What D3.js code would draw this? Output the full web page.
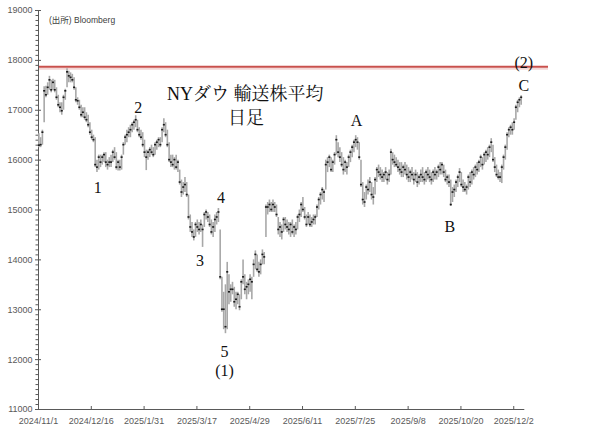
<!DOCTYPE html>
<html><head><meta charset="utf-8">
<script src="https://cdn.jsdelivr.net/npm/d3@7"></script>
<style>
html,body{margin:0;padding:0;background:#fff;}
svg{display:block;}
</style></head>
<body>
<svg id="c" width="616" height="433"></svg>
<script>
// Daily bars: index 0 = 2024/11/1 (trading days)
const tickLabels = ["2024/11/1","2024/12/16","2025/1/31","2025/3/17","2025/4/29","2025/6/11","2025/7/25","2025/9/8","2025/10/20","2025/12/2"];
const tickEvery = 30;
const yTicks = [11000,12000,13000,14000,15000,16000,17000,18000,19000];
const resistance = 17860;

const highs = [
16530,16450,16600,17470,17480,17550,17680,17600,17620,17600,17450,17300,17150,17150,17300,17420,17830,17780,17750,17720,
17650,17450,17250,17200,17100,17050,17050,16950,16900,16750,16600,16500,16450,16000,16100,16100,16100,16150,16150,16000,16050,
16100,16200,16250,16150,16000,16000,16100,16350,16500,16600,16650,
16700,16750,16800,16890,16800,16650,16600,16550,16400,
16200,16200,16250,16300,16250,16350,16400,16450,16450,16650,16830,16750,16600,16350,16100,16100,16050,16100,16000,
15800,15600,15550,15650,15550,15300,14900,14750,14600,14750,14800,14750,14800,14700,14950,15000,14950,14900,14800,14750,14900,14950,15030,
14600,13650,13350,13500,13950,13700,13500,13550,13450,13350,13350,13300,13600,14000,13700,13550,13600,13700,13650,
14000,14180,14100,13950,14000,14200,14150,15100,15150,15200,15150,15200,15150,15100,14850,14750,14700,14850,14850,14800,14750,
14750,14800,14700,14750,14900,15000,15150,15250,15050,14900,14950,14900,14850,14900,
14900,15100,15250,15350,15450,15400,
16000,16050,16100,16050,16000,16150,16490,16350,16250,16150,16050,16000,15950,16100,16200,16300,16400,16490,16450,16350,16000,15550,15350,
15500,15600,15650,15550,15450,15650,15850,15900,15850,15800,15750,15850,15750,15800,16220,16150,16100,16050,16000,15950,
15950,15900,15950,15900,15850,15800,15850,15750,15800,15750,15700,15800,15850,15750,15800,15850,15800,15750,15800,15850,15800,15900,15950,15950,15900,15800,15700,15700,15600,15450,15500,
15600,15700,15830,15750,15600,15550,15500,15700,15750,15800,15850,15900,15950,16000,16100,16050,16150,16200,16250,16300,16430,16300,16050,15900,15800,15750,15900,16100,16300,16550,16650,16700,16750,16830,17100,17200,17250,17290
];
const lows = [
16250,16250,16300,16750,17250,17300,17400,17350,17400,17350,17200,17050,16950,16900,17000,17200,17450,17550,17550,17550,
17400,17150,17100,17000,16850,16850,16800,16750,16650,16500,16400,16350,15850,15750,15800,15850,15900,15950,15850,15800,15850,
15850,15950,16000,15800,15780,15780,15800,16100,16300,16350,16450,
16450,16550,16600,16650,16550,16450,16400,16250,16050,
15790,16000,16050,16100,16050,16100,16200,16250,16250,16350,16550,16450,16250,15950,15850,15850,15800,15800,15750,
15500,15250,15300,15350,15250,14800,14550,14450,14380,14450,14550,14500,14550,14250,14650,14800,14750,14650,14500,14450,14550,14700,14750,
13600,12950,12600,12520,12600,13100,13150,13300,13050,13000,13100,12980,13200,13500,13300,13200,13300,13350,13200,
13650,13800,13750,13650,13700,13900,13900,14450,14900,14950,14950,14950,14950,14850,14500,14450,14400,14550,14600,14550,14500,
14450,14500,14450,14500,14600,14750,14850,14950,14800,14650,14700,14650,14650,14700,
14700,14850,15000,15100,15200,15150,
15400,15750,15850,15750,15750,15900,16100,16050,15950,15850,15700,15750,15700,15850,15950,16050,16150,16250,16200,16000,15450,15100,15050,
15200,15300,15350,15200,15100,15300,15550,15650,15600,15550,15550,15600,15500,15550,15700,15900,15850,15850,15750,15700,
15650,15650,15700,15600,15550,15550,15600,15500,15550,15450,15500,15550,15550,15500,15550,15600,15550,15500,15550,15600,15600,15650,15700,15700,15650,15550,15500,15450,15070,15150,15250,
15350,15450,15550,15450,15350,15350,15300,15400,15450,15500,15600,15650,15700,15750,15850,15800,15900,15950,16000,16050,16150,15950,15750,15650,15600,15550,15530,15800,16000,16200,16450,16500,16500,16600,16800,16950,17050,17100
];
const closes = [
16290,16300,16550,17380,17300,17450,17600,17400,17550,17400,17250,17100,17050,16980,17250,17380,17760,17680,17650,17600,
17450,17200,17180,17050,16900,16950,16850,16800,16700,16550,16450,16400,15900,15850,16050,15950,16050,16100,15950,15900,15950,
15950,16150,16050,15850,15950,15850,16050,16300,16450,16500,16550,
16600,16700,16750,16800,16600,16500,16450,16300,16150,
16050,16150,16200,16150,16100,16300,16350,16400,16300,16600,16700,16500,16300,16000,15950,15900,16000,15850,15950,
15550,15350,15450,15500,15300,14850,14650,14550,14450,14700,14650,14600,14700,14600,14900,14950,14850,14700,14550,14650,14800,14850,14950,
13650,13000,13000,12650,13750,13350,13400,13400,13150,13200,13300,13050,13550,13650,13400,13450,13500,13600,13550,
13900,14100,13800,13750,13900,14100,14050,15050,15050,15100,15000,15100,15050,14900,14600,14650,14550,14800,14700,14650,14600,
14700,14550,14650,14600,14850,14900,15100,15000,14850,14700,14850,14700,14750,14800,
14850,15050,15200,15300,15400,15350,
15900,15950,16050,15800,15950,16100,16400,16150,16050,15900,15800,15950,15850,16050,16150,16250,16350,16400,16350,16050,15500,15200,15150,
15450,15400,15550,15300,15250,15600,15800,15750,15700,15650,15700,15750,15600,15700,16150,16000,15950,15900,15850,15800,
15750,15850,15800,15700,15650,15750,15700,15600,15700,15550,15650,15700,15650,15600,15750,15700,15650,15600,15750,15700,15750,15850,15800,15900,15750,15600,15650,15550,15100,15350,15400,
15550,15650,15750,15500,15450,15400,15450,15650,15550,15750,15700,15850,15800,15950,16050,15900,16100,16150,16100,16250,16350,16000,15850,15700,15650,15650,15850,16050,16250,16500,16600,16650,16600,16750,17050,17150,17200,17250
];

const waveLabels = [
  {t:"1", i:34, v:15330},
  {t:"2", i:57, v:16940},
  {t:"3", i:92, v:13860},
  {t:"4", i:104, v:15140},
  {t:"5", i:106, v:12040},
  {t:"(1)", i:106, v:11660},
  {t:"A", i:181, v:16670},
  {t:"B", i:234, v:14540},
  {t:"C", i:276, v:17380},
  {t:"(2)", i:276, v:17840}
];

const svg = d3.select("#c");
const nSlots = 276;
const x = d3.scaleLinear().domain([0, nSlots]).range([38, 523.8]);
const y = d3.scaleLinear().domain([11000, 19000]).range([409, 10]);

// resistance line
svg.append("line").attr("x1",38).attr("x2",548)
  .attr("y1",y(resistance)+2).attr("y2",y(resistance)+2)
  .attr("stroke","#f3d6d5").attr("stroke-width",2);
svg.append("line").attr("x1",38).attr("x2",548)
  .attr("y1",y(resistance)).attr("y2",y(resistance))
  .attr("stroke","#c9504c").attr("stroke-width",2);

// y axis minor ticks
const minor = d3.range(11000, 19001, 100).filter(v => v % 1000 !== 0);
svg.append("g").attr("transform","translate(38,0)")
  .call(d3.axisLeft(y).tickValues(minor).tickSize(2.5).tickFormat(""))
  .call(g => g.select(".domain").remove())
  .call(g => g.selectAll("line").attr("stroke","#595959"));

// y axis major
svg.append("g").attr("transform","translate(38,0)")
  .call(d3.axisLeft(y).tickValues(yTicks).tickSizeInner(3).tickSizeOuter(0).tickPadding(2.5).tickFormat(d3.format("d")))
  .call(g => g.select(".domain").attr("stroke","#595959"))
  .call(g => g.selectAll(".tick line").attr("x2",-3).attr("x1",3).attr("stroke","#595959"))
  .call(g => g.selectAll("text").attr("fill","#595959").style("font-family","'Liberation Sans', Arial, sans-serif").style("font-size","9px"));

// x axis
const xTickIdx = tickLabels.map((d,k) => k*tickEvery);
svg.append("g").attr("transform","translate(0,409)")
  .call(d3.axisBottom(x).tickValues(xTickIdx).tickSizeInner(-3).tickSizeOuter(0).tickPadding(9)
        .tickFormat((d,k) => tickLabels[k]))
  .call(g => g.select(".domain").attr("stroke","#595959"))
  .call(g => g.selectAll(".tick line").attr("stroke","#595959"))
  .call(g => g.selectAll("text").attr("fill","#595959").style("font-family","'Liberation Sans', Arial, sans-serif").style("font-size","9px"));

// bars
const idx = d3.range(highs.length);
svg.append("g").selectAll("line").data(idx).join("line")
  .attr("x1", i => x(i+0.5)).attr("x2", i => x(i+0.5))
  .attr("y1", i => y(highs[i])).attr("y2", i => y(lows[i]))
  .attr("stroke","#a8a8a8").attr("stroke-width",1.6);
svg.append("g").selectAll("rect").data(idx).join("rect")
  .attr("x", i => x(i+0.5)-1).attr("y", i => y(closes[i])-0.8)
  .attr("width",2).attr("height",1.6).attr("fill","#1a1a1a");

// source
svg.append("text").attr("x",49).attr("y",22.5)
  .style("font-family","'Liberation Sans','Noto Sans CJK JP',sans-serif").style("font-size","8.5px")
  .attr("fill","#404040").text("(出所) Bloomberg");

// title
const serif = "'Liberation Serif','Noto Serif CJK JP','Noto Sans CJK JP',serif";
svg.append("text").attr("x",167).attr("y",100)
  .style("font-family",serif).style("font-size","18px").attr("fill","#111").text("NYダウ 輸送株平均");
svg.append("text").attr("x",228).attr("y",124)
  .style("font-family",serif).style("font-size","18px").attr("fill","#111").text("日足");

// wave labels
svg.append("g").selectAll("text").data(waveLabels).join("text")
  .attr("x", d => x(d.i)).attr("y", d => y(d.v))
  .attr("text-anchor","middle")
  .style("font-family","'Liberation Serif',serif").style("font-size","16px")
  .attr("fill","#111").text(d => d.t);
</script>
</body></html>
